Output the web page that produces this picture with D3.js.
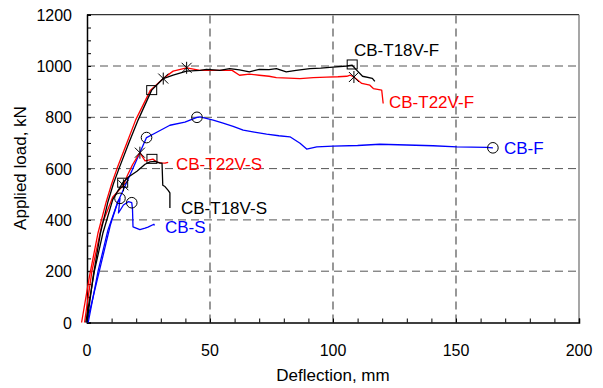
<!DOCTYPE html>
<html><head><meta charset="utf-8">
<script src="https://cdn.jsdelivr.net/npm/d3@7"></script>
<style>body{margin:0;background:#fff}svg{display:block}text{font-family:"Liberation Sans",Arial,sans-serif}</style>
</head><body><svg id="c" width="603" height="388"></svg>
<script>
// ---- data (deflection mm, load kN) ----
const t18vF = [[0,0],[2.5,180],[5.5,350],[8.5,470],[10.7,540],[13,600],[17,700],[20.8,790],[26.3,906],[31,951],[35,964],[40.5,980],[46,983],[48.6,987],[54,983],[58,990],[62,985],[66,977],[70,987],[74,986],[77,990],[81,977],[85,983],[90.6,990],[95,992],[100,996],[105.6,1000],[107.8,1003],[109.6,984],[112,960],[116,952],[117,940]];
const t22vF = [[-2.2,0],[1,180],[4.5,350],[7.8,470],[10,540],[12.2,600],[16.2,700],[19.8,790],[25.8,906],[31,951],[35,980],[40.5,993],[46,983],[52,983],[59,983],[62,964],[66,968],[70,964],[74,960],[77,955],[82,953],[86.6,951],[92,955],[97.4,957],[102,958],[105.6,960],[107,964],[108.5,957],[111.7,932],[115,925],[116.4,912],[119.8,906],[120.4,854]];
const cbF = [[0,0],[5,200],[9.5,380],[12.5,470],[15.4,530],[20,630],[24.2,721],[27.6,738],[33.7,769],[39.8,781],[44.7,800],[46,802],[51.3,789],[55,778],[59.4,765],[63.5,750],[68,742],[73,734],[78,728],[82.5,724],[86.6,699],[89.3,676],[93.4,685],[100,688],[110,690],[119,695],[130,692],[140.7,689],[150.3,685],[162.5,683],[165,681]];
const t18vS = [[-0.5,0],[3,200],[6.5,350],[10.5,480],[14.5,545],[17,568],[20.3,590],[23.6,617],[25.6,626],[27.6,628],[29.7,621],[30.5,621],[30.8,535],[31.7,530],[33,515],[33.7,505],[33.7,446]];
const t22vS = [[-1,0],[2,200],[6,380],[10.5,490],[14.8,535],[16.5,575],[18.5,615],[21.5,662],[23.6,630],[26.8,637],[28.5,625],[30,622],[31.7,621],[33,624]];
const cbS = [[0.5,0],[4.5,200],[8.5,360],[12.5,470],[13.4,484],[12.8,427],[14.8,458],[16.8,471],[18.2,467],[18.5,440],[18.7,373],[21.5,362],[23.6,368],[24.8,372],[27.2,383],[27.4,378]];
// markers
const t18vFMarks = [[26.3,906],[107.8,1006]];
const t22vFMarks = [[31,951],[40.5,993],[108.5,957]];
const cbFMarks = [[24.2,721],[44.7,800],[165,681]];
const t18vSMarks = [[14.5,545],[26.4,638]];
const t22vSMarks = [[14.8,535],[21.5,662]];
const cbSMarks = [[13.4,484],[18.2,467]];
const seriesNames = ["CB-T18V-F","CB-T22V-F","CB-F","CB-T22V-S","CB-T18V-S","CB-S"];
const xTicks = [0,50,100,150,200];
const yTicks = [0,200,400,600,800,1000,1200];

const svg = d3.select("#c");
const x = d3.scaleLinear().domain([0,200]).range([87,579]);
const y = d3.scaleLinear().domain([0,1200]).range([322.5,14.7]);

// grid
const g = svg.append("g");
g.selectAll(".gy").data(yTicks.filter(v=>v>0&&v<1200)).enter().append("line")
 .attr("x1",x(0)).attr("x2",x(200)).attr("y1",d=>y(d)).attr("y2",d=>y(d))
 .attr("stroke","#555").attr("stroke-dasharray","8,5").attr("stroke-width",1);
g.selectAll(".gx").data(xTicks.filter(v=>v>0&&v<200)).enter().append("line")
 .attr("y1",y(0)).attr("y2",y(1200)).attr("x1",d=>x(d)).attr("x2",d=>x(d))
 .attr("stroke","#444").attr("stroke-dasharray","8,5").attr("stroke-width",1.1);

// frame
svg.append("line").attr("x1",x(0)).attr("x2",x(200)).attr("y1",y(1200)).attr("y2",y(1200)).attr("stroke","#333").attr("stroke-width",1.3);
svg.append("line").attr("x1",x(200)).attr("x2",x(200)).attr("y1",y(0)).attr("y2",y(1200)).attr("stroke","#777").attr("stroke-width",1.3);

// axes (ticks inward)
const xAxis = d3.axisBottom(x).tickValues(d3.range(0,201,10)).tickSize(-4).tickFormat(()=> "");
const yAxis = d3.axisLeft(y).tickValues(d3.range(0,1201,50)).tickSize(-4).tickFormat(()=> "");
svg.append("g").attr("transform",`translate(0,${y(0)})`).call(xAxis)
  .call(s=>{s.select(".domain").attr("stroke","#000").attr("stroke-width",1.5);s.selectAll(".tick line").attr("stroke","#000");});
svg.append("g").attr("transform",`translate(${x(0)},0)`).call(yAxis)
  .call(s=>{s.select(".domain").attr("stroke","#000").attr("stroke-width",1.5);s.selectAll(".tick line").attr("stroke","#000");});

// tick labels
svg.selectAll(".xl").data(xTicks).enter().append("text")
 .attr("x",d=>x(d)).attr("y",356).attr("text-anchor","middle").attr("font-size",16).attr("fill","#000").text(d=>d);
svg.selectAll(".yl").data(yTicks).enter().append("text")
 .attr("x",72).attr("y",d=>y(d)+6).attr("text-anchor","end").attr("font-size",16).attr("fill","#000").text(d=>d);

// titles
svg.append("text").attr("x",333).attr("y",381).attr("text-anchor","middle").attr("font-size",17).text("Deflection, mm");
svg.append("text").attr("transform","translate(26,168) rotate(-90)").attr("text-anchor","middle").attr("font-size",17).text("Applied load, kN");

// curves
const line = d3.line().x(d=>x(d[0])).y(d=>y(d[1]));
const curves = [[cbS,"#0000ff"],[cbF,"#0000ff"],[t22vS,"#ff0000"],[t18vS,"#000"],[t22vF,"#ff0000"],[t18vF,"#000"]];
curves.forEach(([d,c])=>svg.append("path").datum(d).attr("d",line).attr("fill","none").attr("stroke",c).attr("stroke-width",1.3).attr("stroke-linejoin","round"));

// markers
function squares(arr){svg.selectAll(null).data(arr).enter().append("rect")
  .attr("x",d=>x(d[0])-5).attr("y",d=>y(d[1])-4.5).attr("width",10).attr("height",9)
  .attr("fill","none").attr("stroke","#000").attr("stroke-width",1);}
function circles(arr){svg.selectAll(null).data(arr).enter().append("circle")
  .attr("cx",d=>x(d[0])).attr("cy",d=>y(d[1])).attr("r",5.3)
  .attr("fill","none").attr("stroke","#000").attr("stroke-width",1);}
function stars(arr){svg.selectAll(null).data(arr).enter().append("path")
  .attr("d",d=>{const cx=x(d[0]),cy=y(d[1]),r=5;return `M${cx-r},${cy-r}L${cx+r},${cy+r}M${cx-r},${cy+r}L${cx+r},${cy-r}M${cx},${cy-r-1}L${cx},${cy+r+1}`;})
  .attr("fill","none").attr("stroke","#000").attr("stroke-width",1);}
squares(t18vFMarks); squares(t18vSMarks);
stars(t22vFMarks); stars(t22vSMarks);
circles(cbFMarks); circles(cbSMarks);

// labels
const labels = [[seriesNames[0],354,56,"#000"],[seriesNames[1],389,108,"#ff0000"],[seriesNames[2],504,154,"#0000ff"],
 [seriesNames[3],176,170,"#ff0000"],[seriesNames[4],181,214,"#000"],[seriesNames[5],165,233,"#0000ff"]];
svg.selectAll(".lab").data(labels).enter().append("text")
 .attr("x",d=>d[1]).attr("y",d=>d[2]).attr("fill",d=>d[3]).attr("font-size",17).text(d=>d[0]);
</script></body></html>
